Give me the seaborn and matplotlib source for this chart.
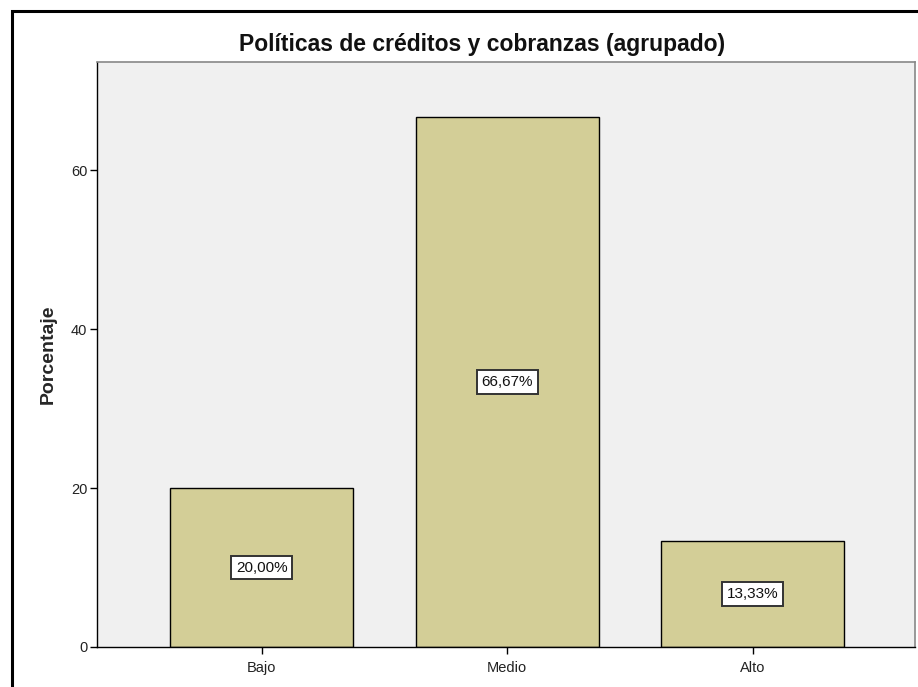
import matplotlib
matplotlib.use("Agg")
import matplotlib.pyplot as plt
import seaborn as sns
import pandas as pd
from matplotlib.patches import Rectangle

categories = ["Bajo", "Medio", "Alto"]
percentages = [20.00, 66.67, 13.33]
labels = ["20,00%", "66,67%", "13,33%"]
yticks = [0, 20, 40, 60]

sns.set_theme(style="white")
plt.rcParams['font.family'] = ['Liberation Sans', 'DejaVu Sans']

df = pd.DataFrame({"cat": categories, "pct": percentages})

fig = plt.figure(figsize=(9.18, 6.87), dpi=100)
ax = fig.add_axes([97/918, 1-647/687, (915-97)/918, (647-62)/687])
ax.set_facecolor("#F0F0F0")

sns.barplot(data=df, x="cat", y="pct", color="#D3CE97", saturation=1,
            width=0.745, edgecolor="black", linewidth=1, ax=ax)

for i, (v, t) in enumerate(zip(percentages, labels)):
    ax.text(i, v / 2, t, ha="center", va="center", fontsize=11, color="#111111",
            bbox=dict(boxstyle="square,pad=0.3", fc="white", ec="#333333", lw=1.4))

ax.set_xlim(-0.67, 2.66)
ax.set_ylim(0, 73.6)
ax.set_yticks(yticks)
ax.set_xlabel("")
ax.set_ylabel("Porcentaje", fontsize=14, fontweight="bold", labelpad=10)
ax.tick_params(axis="both", which="both", length=5, width=1, color="black",
               labelsize=10.5, labelcolor="#222222", bottom=True, left=True, pad=2)
ax.tick_params(axis="x", pad=5)
for s in ["top", "right"]:
    ax.spines[s].set_color("#888888")
    ax.spines[s].set_linewidth(1.2)
for s in ["left", "bottom"]:
    ax.spines[s].set_color("black")
    ax.spines[s].set_linewidth(1)

fig.text(482/918, 1-45/687, "Políticas de créditos y cobranzas (agrupado)",
         ha="center", va="center", fontsize=16.5, fontweight="bold", color="#111111")

# outer border (left and top visible; right/bottom cut off)
fig.patches.append(Rectangle((12/918, -0.05), 1.2, 1.05 - 11/687,
                             transform=fig.transFigure, fill=False,
                             ec="black", lw=2.2))

fig.savefig("out.png", dpi=100, facecolor="white")
